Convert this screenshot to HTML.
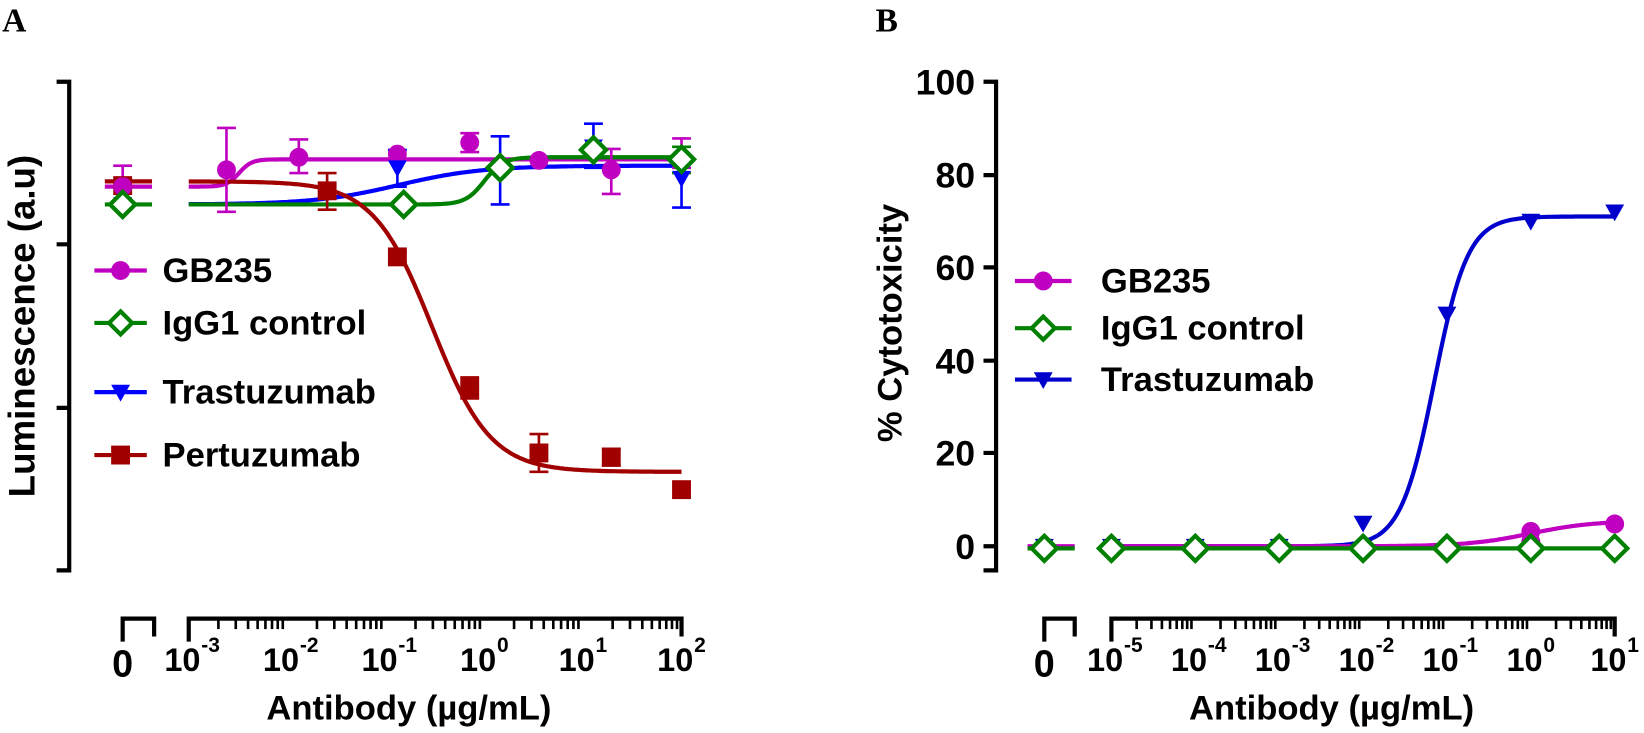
<!DOCTYPE html>
<html><head><meta charset="utf-8">
<style>
html,body{margin:0;padding:0;background:#fff;}
svg{display:block;font-family:"Liberation Sans",Arial,sans-serif;font-weight:bold;}
</style></head><body>
<svg id="s" width="1644" height="733" viewBox="0 0 1644 733" xmlns="http://www.w3.org/2000/svg">
<g transform="scale(1.0485)">
<text x="2" y="30" font-family="Liberation Serif" font-size="32" font-weight="bold">A</text>
<text x="835" y="30" font-family="Liberation Serif" font-size="32" font-weight="bold">B</text>
<g stroke="#000" stroke-width="4" fill="none">
<path d="M54 78 H66 V544 H54 M54 233 H66 M54 389 H66"/>
<path d="M117 612 V590 H147 V607"/>
<path d="M180 612 V590 H650 V607"/>
</g>
<g id="ticksA" stroke="#000" stroke-width="2.5"></g>
<text x="117" y="645" font-size="36" text-anchor="middle">0</text>
<g id="labA" font-size="31"></g>
<text x="390" y="686" font-size="33" text-anchor="middle">Antibody (µg/mL)</text>
<text transform="translate(33,311) rotate(-90)" font-size="35" text-anchor="middle">Luminescence (a.u)</text>
<g id="plotA"></g>
<g stroke-width="4">
<line x1="90" y1="258" x2="140" y2="258" stroke="#c000c0"/><circle cx="115" cy="258" r="9" fill="#c000c0"/>
<line x1="90" y1="308" x2="140" y2="308" stroke="#008000"/><path d="M115 297 L126 308 L115 319 L104 308Z" fill="#fff" stroke="#008000"/>
<line x1="90" y1="374" x2="140" y2="374" stroke="#0000ff"/><path d="M106 367 H124 L115 383Z" fill="#0000ff"/>
<line x1="90" y1="434" x2="140" y2="434" stroke="#a00000"/><rect x="106" y="425" width="18" height="18" fill="#a00000"/>
</g>
<g font-size="33">
<text x="155" y="269">GB235</text>
<text x="155" y="319">IgG1 control</text>
<text x="155" y="385">Trastuzumab</text>
<text x="155" y="445">Pertuzumab</text>
</g>
<g stroke="#000" stroke-width="4" fill="none">
<path d="M938 78 H950 V544 H938 M938 167 H950 M938 255 H950 M938 344 H950 M938 432 H950 M938 521 H950"/>
<path d="M996 612 V590 H1025 V607"/>
<path d="M1060 612 V590 H1540 V607"/>
</g>
<g id="ticksB" stroke="#000" stroke-width="2.5"></g>
<g font-size="34" text-anchor="end">
<text x="930" y="90">100</text><text x="930" y="179">80</text><text x="930" y="267">60</text>
<text x="930" y="356">40</text><text x="930" y="444">20</text><text x="930" y="533">0</text>
</g>
<text x="996" y="645" font-size="36" text-anchor="middle">0</text>
<g id="labB" font-size="31"></g>
<text x="1270" y="686" font-size="33" text-anchor="middle">Antibody (µg/mL)</text>
<text transform="translate(860,308) rotate(-90)" font-size="33" text-anchor="middle">% Cytotoxicity</text>
<g id="plotB"></g>
<g stroke-width="4">
<line x1="968" y1="268" x2="1022" y2="268" stroke="#c000c0"/><circle cx="995" cy="268" r="9" fill="#c000c0"/>
<line x1="968" y1="313" x2="1022" y2="313" stroke="#008000"/><path d="M995 302 L1006 313 L995 324 L984 313Z" fill="#fff" stroke="#008000"/>
<line x1="968" y1="362" x2="1022" y2="362" stroke="#0000cc"/><path d="M986 355 H1004 L995 371Z" fill="#0000cc"/>
</g>
<g font-size="33">
<text x="1050" y="279">GB235</text>
<text x="1050" y="324">IgG1 control</text>
<text x="1050" y="373">Trastuzumab</text>
</g>
</g>
</svg>
<script>
const NS="http://www.w3.org/2000/svg";
function el(p,t,a){const e=document.createElementNS(NS,t);for(const k in a)e.setAttribute(k,a[k]);p.appendChild(e);return e;}
function ticks(g,x0,dec,n){for(let d=0;d<n;d++){for(let m=2;m<=9;m++){const x=x0+dec*(d+Math.log10(m));el(g,"line",{x1:x,y1:590,x2:x,y2:600});}}}
ticks(document.getElementById("ticksA"),180,94,5);
ticks(document.getElementById("ticksB"),1060,80,6);
function labs(g,x0,dec,e0,n){for(let i=0;i<n;i++){const x=x0+dec*i;const t=el(g,"text",{x:x-6,y:640,"text-anchor":"middle"});t.textContent="10";const s=el(g,"text",{x:x+12,y:622,"font-size":"20","text-anchor":"start"});s.textContent=String(e0+i);}}
labs(document.getElementById("labA"),180,94,-3,6);
labs(document.getElementById("labB"),1060,80,-5,7);
function sig(x0,x1,a,b,mid,k){let d="";for(let x=x0;x<=x1;x+=2){const y=a+(b-a)/(1+Math.exp(-(x-mid)/k));d+=(d?"L":"M")+x+" "+y.toFixed(1);}return d;}
const A=document.getElementById("plotA");
function line(g,d,c){el(g,"path",{d:d,stroke:c,"stroke-width":4,fill:"none"});}
function eb(g,x,y1,y2,c){el(g,"path",{d:`M${x} ${y1}V${y2}M${x-9} ${y1}H${x+9}M${x-9} ${y2}H${x+9}`,stroke:c,"stroke-width":2.5,fill:"none"});}
const mg="#c000c0",gr="#008000",bl="#0000ff",rd="#a00000";
line(A,"M100 178H145",mg);line(A,"M100 173H145",rd);line(A,"M100 195H145",gr);
line(A,sig(180,650,178,152,228,6),mg);
line(A,sig(180,650,195,158,380,40),bl);
line(A,sig(180,650,195,150,462,9),gr);
line(A,sig(180,650,173,450,412,28),rd);
[[117,158,195,mg],[216,122,202,mg],[285,133,165,mg],[448,127,145,mg],[583,142,185,mg],[650,132,160,mg],
 [312,165,200,rd],[379,240,250,rd],[448,360,380,rd],[514,414,450,rd],[583,428,444,rd],
 [379,143,178,bl],[477,130,195,bl],[566,118,160,bl],[650,150,198,bl],[650,140,165,gr]].forEach(e=>eb(A,e[0],e[1],e[2],e[3]));
function circ(g,x,y,c){el(g,"circle",{cx:x,cy:y,r:9,fill:c});}
function sq(g,x,y){el(g,"rect",{x:x-9,y:y-9,width:18,height:18,fill:rd});}
function tri(g,x,y,c){el(g,"path",{d:`M${x-9} ${y-7}H${x+9}L${x} ${y+9}Z`,fill:c});}
function dia(g,x,y){el(g,"path",{d:`M${x} ${y-12}L${x+12} ${y}L${x} ${y+12}L${x-12} ${y}Z`,fill:"#fff",stroke:gr,"stroke-width":4});}
[[117,177],[312,182],[379,245],[448,370],[514,432],[583,436],[650,467]].forEach(p=>sq(A,p[0],p[1]));
[[117,178],[216,162],[285,150],[379,147],[448,136],[514,153],[583,162],[650,150]].forEach(p=>circ(A,p[0],p[1],mg));
[[117,195],[379,160],[566,140],[650,170]].forEach(p=>tri(A,p[0],p[1],bl));
[[117,195],[385,195],[477,160],[566,143],[650,152]].forEach(p=>dia(A,p[0],p[1]));
const B=document.getElementById("plotB");
const yv=v=>521-v*4.43;
const bb="#0000cc";
line(B,"M980 521H1025",mg);line(B,"M980 523H1025",gr);
let d="";for(let x=1060;x<=1540;x+=2){const v=71/(1+Math.exp(-(x-1368)/16));d+=(d?"L":"M")+x+" "+yv(v).toFixed(1);}line(B,d,bb);
d="";for(let x=1060;x<=1540;x+=2){const v=5.5/(1+Math.exp(-(x-1460)/30));d+=(d?"L":"M")+x+" "+yv(v).toFixed(1);}line(B,d,mg);
line(B,"M1060 523H1540",gr);
const xs=[996,1060,1140,1220,1300,1380,1460,1540];
[0,0,0,0,5,50,70,72].forEach((v,i)=>tri(B,xs[i],yv(v),bb));
[0,0,0,0,0,0,1].forEach((v,i)=>circ(B,xs[i],yv(v),mg));
circ(B,1460,yv(3.2),mg);circ(B,1540,yv(4.8),mg);
xs.forEach(x=>dia(B,x,523));
</script>
</body></html>
